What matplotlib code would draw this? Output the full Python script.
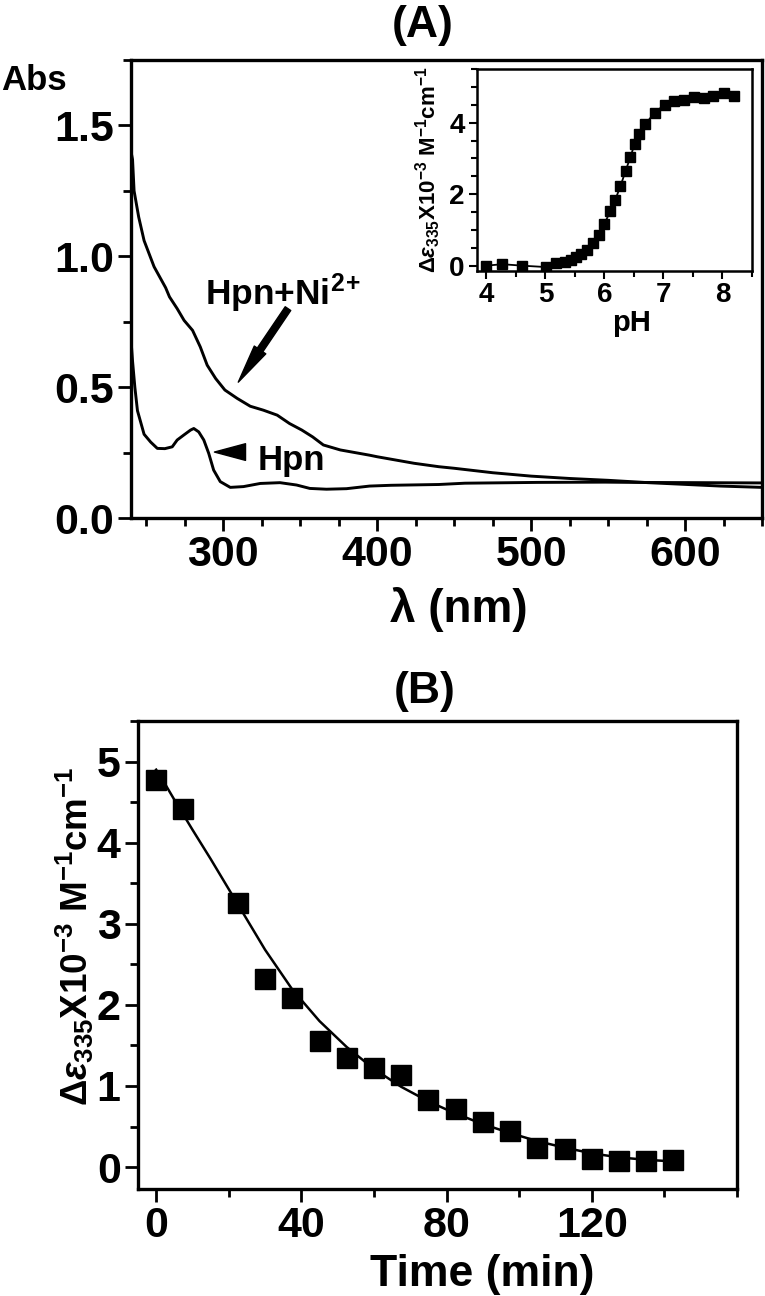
import matplotlib
matplotlib.use("Agg")
import matplotlib.pyplot as plt
from matplotlib.ticker import MultipleLocator, FormatStrFormatter

# ---------------- data ----------------
# Panel A: UV-vis spectra (wavelength nm, absorbance)
wl_hpn_ni = [240, 241, 242, 245, 248.5, 255, 262.5, 265, 270, 274.5, 280, 285, 289.5, 295,
             301, 309, 317.5, 326, 335, 343, 351, 358, 365, 376, 395, 400, 424, 440, 450,
             475, 500, 525, 550, 576, 598, 623, 650]
abs_hpn_ni = [1.40, 1.37, 1.25, 1.15, 1.06, 0.96, 0.88, 0.845, 0.80, 0.755, 0.717, 0.654, 0.584,
              0.533, 0.489, 0.457, 0.427, 0.412, 0.393, 0.361, 0.336, 0.31, 0.279, 0.26, 0.24,
              0.234, 0.209, 0.196, 0.19, 0.173, 0.16, 0.151, 0.144, 0.135, 0.129, 0.122, 0.117]

wl_hpn = [240, 241, 242.5, 244.2, 248.5, 252.8, 257.1, 262, 266.8, 270, 274.3, 278.7, 280.8,
          284, 287.3, 290.5, 293.7, 298, 304.5, 313.1, 324, 336.8, 347.6, 356.2, 367, 380,
          395, 409, 440, 457, 504, 548, 567, 610, 650]
abs_hpn = [0.68, 0.60, 0.50, 0.41, 0.32, 0.29, 0.266, 0.265, 0.272, 0.298, 0.317, 0.336, 0.342,
           0.329, 0.298, 0.247, 0.183, 0.139, 0.117, 0.12, 0.132, 0.135, 0.126, 0.113, 0.11,
           0.112, 0.122, 0.125, 0.128, 0.133, 0.136, 0.137, 0.136, 0.135, 0.134]

# Inset: pH titration (pH, delta-epsilon x 1e-3)
ph = [4.0, 4.27, 4.60, 5.01, 5.18, 5.33, 5.43, 5.52, 5.61, 5.71, 5.81, 5.91, 6.00, 6.10, 6.18,
      6.27, 6.36, 6.44, 6.51, 6.59, 6.69, 6.85, 7.02, 7.18, 7.35, 7.52, 7.68, 7.84, 8.02, 8.20]
deps_ph = [0.0, 0.04, 0.0, -0.04, 0.07, 0.11, 0.16, 0.23, 0.32, 0.44, 0.63, 0.87, 1.17, 1.53,
           1.83, 2.22, 2.66, 3.04, 3.40, 3.68, 3.95, 4.28, 4.50, 4.61, 4.64, 4.71, 4.68, 4.75,
           4.83, 4.75]

# Panel B: kinetics (time min, delta-epsilon x 1e-3)
t_min = [0, 7.5, 22.5, 30, 37.5, 45, 52.5, 60, 67.5, 75, 82.5, 90, 97.5, 105, 112.5, 120,
         127.5, 135, 142.5]
deps_t = [4.77, 4.42, 3.25, 2.32, 2.09, 1.56, 1.34, 1.22, 1.14, 0.83, 0.72, 0.55, 0.44, 0.24,
          0.22, 0.10, 0.07, 0.08, 0.09]
# fitted curve
t_fit = [0, 2.5, 5, 10, 15, 22.5, 30, 37.5, 45, 52.5, 60, 67.5, 75, 82.5, 90, 97.5, 105,
         112.5, 120, 127.5, 135, 142.5]
deps_fit = [4.90, 4.72, 4.53, 4.16, 3.80, 3.24, 2.68, 2.19, 1.80, 1.48, 1.21, 0.99, 0.81,
            0.66, 0.53, 0.42, 0.32, 0.24, 0.17, 0.12, 0.09, 0.07]

# ---------------- fonts ----------------
FAM = 'Liberation Sans'
plt.rcParams['font.family'] = [FAM, 'DejaVu Sans']
plt.rcParams['font.weight'] = 'bold'
plt.rcParams['mathtext.fontset'] = 'custom'
plt.rcParams['mathtext.rm'] = FAM + ':bold'
plt.rcParams['mathtext.bf'] = FAM + ':bold'
plt.rcParams['mathtext.it'] = FAM + ':italic'
plt.rcParams['mathtext.default'] = 'rm'

W, H = 765, 1296
fig = plt.figure(figsize=(W / 100, H / 100), dpi=100)

def rect(l, t, r, b):
    return [l / W, 1 - b / H, (r - l) / W, (b - t) / H]

def style_axes(ax, lw, maj, mnr, tw, fs):
    for s in ax.spines.values():
        s.set_linewidth(lw)
    ax.tick_params(which='both', direction='out', top=False, right=False, width=tw,
                   labelsize=fs, pad=3)
    ax.tick_params(which='major', length=maj)
    ax.tick_params(which='minor', length=mnr)
    for lab in ax.get_xticklabels() + ax.get_yticklabels():
        lab.set_fontweight('bold')

YLAB = 'Δ$\\mathit{\\varepsilon}_{335}$X10$^{-3}$ M$^{-1}$cm$^{-1}$'

# ---------------- Panel A ----------------
axA = fig.add_axes(rect(131, 60, 762, 518))
axA.plot(wl_hpn_ni, abs_hpn_ni, color='k', lw=2.1)
axA.plot(wl_hpn, abs_hpn, color='k', lw=2.1)
axA.set_xlim(240, 650)
axA.set_ylim(0, 1.75)
axA.xaxis.set_major_locator(MultipleLocator(100))
axA.xaxis.set_minor_locator(MultipleLocator(25))
axA.yaxis.set_major_locator(MultipleLocator(0.5))
axA.yaxis.set_minor_locator(MultipleLocator(0.25))
axA.yaxis.set_major_formatter(FormatStrFormatter('%.1f'))
style_axes(axA, 2.4, 9.5, 6, 2.0, 31)
axA.set_xlabel('λ (nm)', fontsize=33, fontweight='bold')
axA.xaxis.set_label_coords((459 - 131) / 631, (518 - 587) / 458)

axA.annotate('', xy=(309.7, 0.519), xytext=(342, 0.80),
             arrowprops=dict(arrowstyle='simple,head_length=1.4,head_width=0.5,tail_width=0.24',
                             mutation_scale=20, color='k', shrinkA=0, shrinkB=0))
axA.text(288.4, 0.813, 'Hpn+Ni$^{2}$$^{+}$', fontsize=25.5, fontweight='bold',
         ha='left', va='baseline')
axA.annotate('', xy=(294.2, 0.252), xytext=(314.2, 0.252),
             arrowprops=dict(arrowstyle='simple,head_length=1.4,head_width=0.75,tail_width=0.05',
                             mutation_scale=16, color='k', shrinkA=0, shrinkB=0))
axA.text(322, 0.183, 'Hpn', fontsize=25, fontweight='bold', ha='left', va='baseline')

fig.text(423 / W, 1 - 25 / H, '(A)', fontsize=32, fontweight='bold', ha='center', va='center')
fig.text(1 / W, 1 - 90 / H, 'Abs', fontsize=25, fontweight='bold', ha='left', va='baseline')

# ---------------- Inset ----------------
axI = fig.add_axes(rect(477, 69, 752, 271))
axI.plot(ph, deps_ph, color='k', lw=1.3, marker='s', ms=6.5, mfc='k', mec='k')
axI.set_xlim(3.84, 8.5)
axI.set_ylim(-0.15, 5.5)
axI.xaxis.set_major_locator(MultipleLocator(1))
axI.xaxis.set_minor_locator(MultipleLocator(0.5))
axI.yaxis.set_major_locator(MultipleLocator(2))
axI.yaxis.set_minor_locator(MultipleLocator(0.5))
style_axes(axI, 1.8, 6, 4, 1.5, 20)
axI.tick_params(axis='x', pad=2)
axI.set_xlabel('pH', fontsize=21, fontweight='bold')
axI.xaxis.set_label_coords((632 - 477) / 275, (271 - 309) / 202)
axI.set_ylabel(YLAB, fontsize=16, fontweight='bold')
axI.yaxis.set_label_coords((443 - 477) / 275, 0.5)

# ---------------- Panel B ----------------
axB = fig.add_axes(rect(138, 721, 737, 1189))
axB.plot(t_fit, deps_fit, color='k', lw=1.8)
axB.plot(t_min, deps_t, ls='none', marker='s', ms=14.5, mfc='k', mec='k')
axB.set_xlim(-5, 160)
axB.set_ylim(-0.27, 5.5)
axB.set_xticks([0, 40, 80, 120])
axB.set_xticks([20, 60, 100, 140, 160], minor=True)
axB.yaxis.set_major_locator(MultipleLocator(1))
axB.yaxis.set_minor_locator(MultipleLocator(0.5))
style_axes(axB, 2.4, 9.5, 6, 2.0, 31)
axB.set_xlabel('Time (min)', fontsize=32, fontweight='bold')
axB.xaxis.set_label_coords((482 - 138) / 599, (1189 - 1254) / 468)
axB.set_ylabel(YLAB, fontsize=26.5, fontweight='bold')
axB.yaxis.set_label_coords((96 - 138) / 599, (1189 - 936) / 468)
fig.text(425 / W, 1 - 691 / H, '(B)', fontsize=32, fontweight='bold', ha='center', va='center')

fig.savefig('out.png', dpi=100)
